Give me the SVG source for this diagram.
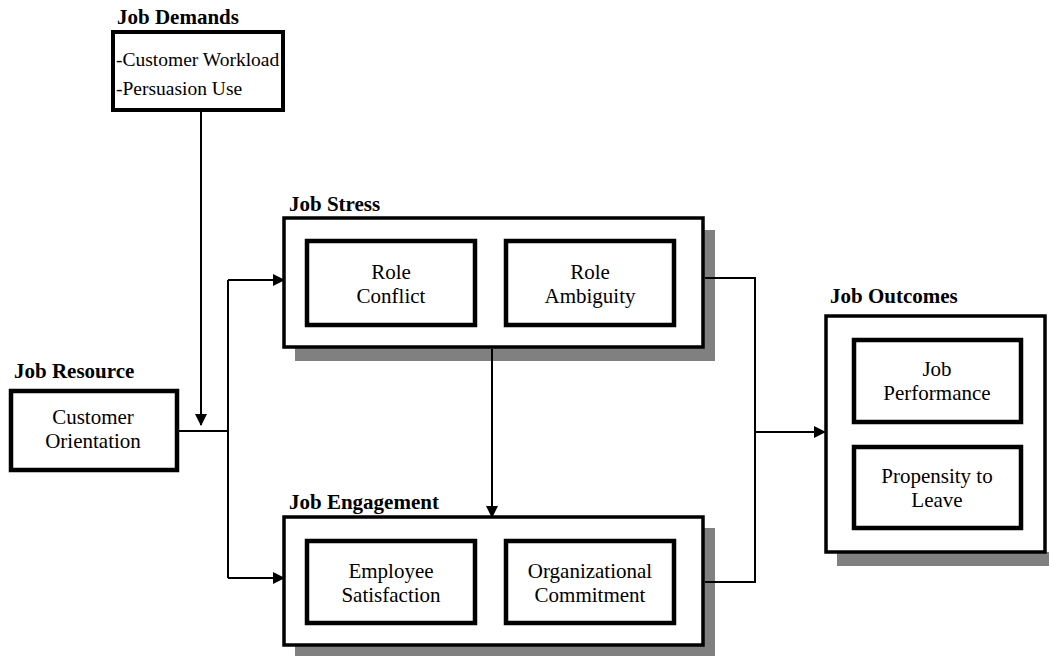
<svg xmlns="http://www.w3.org/2000/svg" width="1049" height="656" viewBox="0 0 1049 656">
<defs>
<style>
.t{font-family:"Liberation Serif","Times New Roman",serif;font-size:21px;fill:#000}
.s{font-size:19.5px}
.c{text-anchor:middle}
.b{font-weight:bold}
.outer{fill:#fff;stroke:#000;stroke-width:3.5}
.inner{fill:#fff;stroke:#000;stroke-width:4.5}
.sh{fill:#808080}
.ln{fill:none;stroke:#000;stroke-width:2}
</style>
<marker id="ah" markerWidth="12" markerHeight="12" refX="11" refY="6" orient="auto" markerUnits="userSpaceOnUse">
<path d="M0,0 L12,6 L0,12 Z" fill="#000"/>
</marker>
</defs>
<rect width="1049" height="656" fill="#fff"/>

<g id="job-demands">
<text class="t b" x="117" y="24">Job Demands</text>
<rect class="outer" x="113" y="32" width="170" height="78" style="stroke-width:4"/>
<text class="t s" x="116" y="66">-Customer Workload</text>
<text class="t s" x="116" y="95">-Persuasion Use</text>
</g>

<g id="job-resource">
<text class="t b" x="14" y="378">Job Resource</text>
<rect class="outer" x="11" y="391" width="166" height="79" style="stroke-width:4.5"/>
<text class="t c" x="93" y="424">Customer</text>
<text class="t c" x="93" y="448">Orientation</text>
</g>

<g id="job-stress">
<rect class="sh" x="295" y="230" width="420" height="131"/>
<text class="t b" x="289" y="211">Job Stress</text>
<rect class="outer" x="284" y="218" width="419" height="129"/>
<g id="role-conflict">
<rect class="inner" x="307" y="241" width="168" height="84"/>
<text class="t c" x="391" y="279">Role</text>
<text class="t c" x="391" y="303">Conflict</text>
</g>
<g id="role-ambiguity">
<rect class="inner" x="506" y="241" width="168" height="84"/>
<text class="t c" x="590" y="279">Role</text>
<text class="t c" x="590" y="303">Ambiguity</text>
</g>
</g>

<g id="job-engagement">
<rect class="sh" x="295" y="528" width="420" height="128"/>
<text class="t b" x="289" y="509">Job Engagement</text>
<rect class="outer" x="284" y="517" width="419" height="128"/>
<g id="employee-satisfaction">
<rect class="inner" x="307" y="541" width="168" height="82"/>
<text class="t c" x="391" y="578">Employee</text>
<text class="t c" x="391" y="602">Satisfaction</text>
</g>
<g id="organizational-commitment">
<rect class="inner" x="506" y="541" width="168" height="82"/>
<text class="t c" x="590" y="578">Organizational</text>
<text class="t c" x="590" y="602">Commitment</text>
</g>
</g>

<g id="job-outcomes">
<rect class="sh" x="837" y="552" width="215" height="14"/>
<text class="t b" x="830" y="303">Job Outcomes</text>
<rect class="outer" x="826" y="316" width="219" height="236"/>
<g id="job-performance">
<rect class="inner" x="854" y="340" width="167" height="82"/>
<text class="t c" x="937" y="376">Job</text>
<text class="t c" x="937" y="400">Performance</text>
</g>
<g id="propensity-to-leave">
<rect class="inner" x="854" y="447" width="167" height="81"/>
<text class="t c" x="937" y="483">Propensity to</text>
<text class="t c" x="937" y="507">Leave</text>
</g>
</g>

<g id="connectors">
<path class="ln" d="M201,112 V425" marker-end="url(#ah)"/>
<path class="ln" d="M179,431 H228"/>
<path class="ln" d="M228,280 V578"/>
<path class="ln" d="M228,280 H284" marker-end="url(#ah)"/>
<path class="ln" d="M228,578 H284" marker-end="url(#ah)"/>
<path class="ln" d="M492,349 V517" marker-end="url(#ah)"/>
<path class="ln" d="M705,278 H755 V582 H705"/>
<path class="ln" d="M755,432 H825" marker-end="url(#ah)"/>
</g>
</svg>
